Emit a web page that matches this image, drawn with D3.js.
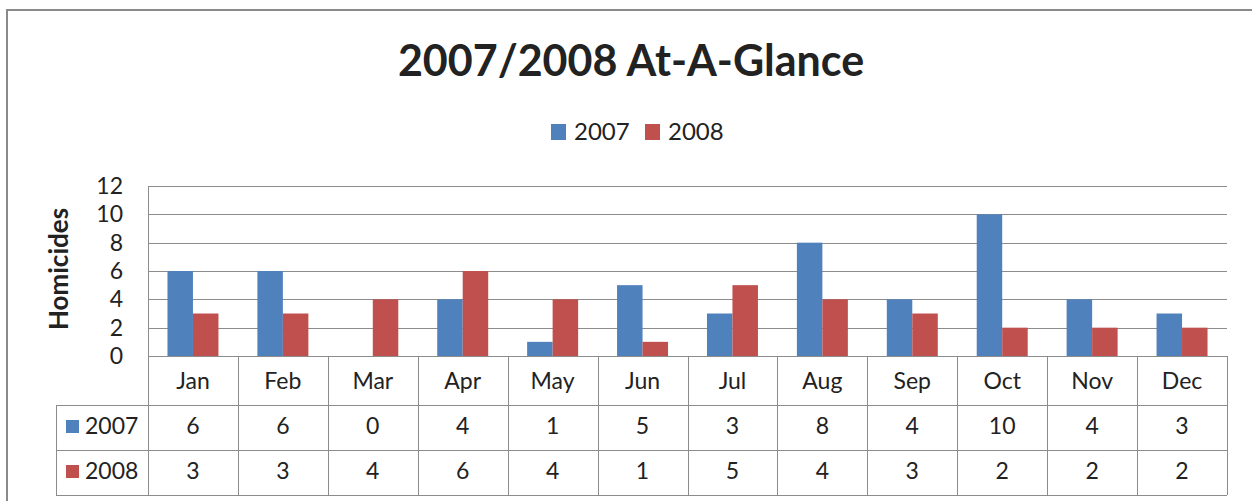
<!DOCTYPE html>
<html>
<head>
<meta charset="utf-8">
<script src="https://cdn.jsdelivr.net/npm/d3@7"></script>
<style>
  body { margin: 0; background: #fff; }
  svg text { font-family: Lato, "Open Sans", sans-serif; fill: #222; }
</style>
</head>
<body>
<svg id="chart" width="1252" height="501"></svg>
<script>
// DATA
const months = ["Jan", "Feb", "Mar", "Apr", "May", "Jun", "Jul", "Aug", "Sep", "Oct", "Nov", "Dec"];
const years = ["2007", "2008"];
const values2007 = [6, 6, 0, 4, 1, 5, 3, 8, 4, 10, 4, 3];
const values2008 = [3, 3, 4, 6, 4, 1, 5, 4, 3, 2, 2, 2];
const yTicks = [0, 2, 4, 6, 8, 10, 12];

const colors = { "2007": "#4F81BD", "2008": "#C0504D" };
const series = { "2007": values2007, "2008": values2008 };

const svg = d3.select("#chart");
const plot = { left: 148, right: 1227, top: 186, bottom: 356 };
const tableRows = [356, 405, 450, 495];
const tableLeft = 56;
const gridColor = "#8c8c8c";
const fontSize = 23;

// outer chart border
svg.append("rect")
    .attr("x", 7).attr("y", 10)
    .attr("width", 1300).attr("height", 600)
    .attr("fill", "none")
    .attr("stroke", "#8a8a8a")
    .attr("stroke-width", 2);

// SCALES
const x = d3.scaleBand()
    .domain(months)
    .range([plot.left, plot.right]);

const xInner = d3.scaleBand()
    .domain(years)
    .range([0, x.bandwidth() * 0.567])
    .padding(0);

const y = d3.scaleLinear()
    .domain([0, 12])
    .range([plot.bottom, plot.top]);

// GRIDLINES
svg.append("g")
    .selectAll("line")
    .data(yTicks)
    .join("line")
    .attr("x1", plot.left)
    .attr("x2", plot.right)
    .attr("y1", d => Math.round(y(d)) + 0.5)
    .attr("y2", d => Math.round(y(d)) + 0.5)
    .attr("stroke", gridColor)
    .attr("stroke-width", 1);

// Y AXIS
const yAxis = svg.append("g")
    .attr("transform", `translate(${plot.left},0)`)
    .call(d3.axisLeft(y).tickValues(yTicks).tickSize(0).tickPadding(25));
yAxis.select(".domain").attr("stroke", gridColor);
yAxis.selectAll("text")
    .attr("font-size", fontSize)
    .attr("font-family", "Lato, sans-serif")
    .attr("fill", "#222");

svg.append("text")
    .attr("transform", `translate(68, 269) rotate(-90)`)
    .attr("text-anchor", "middle")
    .attr("font-size", 26)
    .attr("font-weight", "bold")
    .text("Homicides");

// BARS
const groupOffset = (x.bandwidth() - xInner.range()[1]) / 2;
svg.append("g")
    .selectAll("g")
    .data(months)
    .join("g")
    .attr("transform", d => `translate(${x(d) + groupOffset},0)`)
    .selectAll("rect")
    .data((m, i) => years.map(yr => ({ yr, v: series[yr][i] })))
    .join("rect")
    .attr("x", d => xInner(d.yr))
    .attr("width", xInner.bandwidth())
    .attr("y", d => y(d.v))
    .attr("height", d => y(0) - y(d.v))
    .attr("fill", d => colors[d.yr]);

// DATA TABLE
const table = svg.append("g");
// horizontal lines
table.selectAll("line.h")
    .data(tableRows)
    .join("line")
    .attr("class", "h")
    .attr("x1", (d, i) => i === 0 ? plot.left : tableLeft)
    .attr("x2", plot.right)
    .attr("y1", d => d + 0.5)
    .attr("y2", d => d + 0.5)
    .attr("stroke", gridColor);
// vertical lines
const colEdges = months.map(m => x(m)).concat([plot.right]);
table.selectAll("line.v")
    .data(colEdges)
    .join("line")
    .attr("class", "v")
    .attr("x1", d => Math.round(d) + 0.5)
    .attr("x2", d => Math.round(d) + 0.5)
    .attr("y1", tableRows[0])
    .attr("y2", tableRows[3])
    .attr("stroke", gridColor);
table.append("line")
    .attr("x1", tableLeft + 0.5).attr("x2", tableLeft + 0.5)
    .attr("y1", tableRows[1]).attr("y2", tableRows[3])
    .attr("stroke", gridColor);

// month labels
table.selectAll("text.month")
    .data(months)
    .join("text")
    .attr("class", "month")
    .attr("x", d => x(d) + x.bandwidth() / 2)
    .attr("y", (tableRows[0] + tableRows[1]) / 2 + 8)
    .attr("text-anchor", "middle")
    .attr("font-size", fontSize)
    .text(d => d);

// value rows
years.forEach((yr, r) => {
    const cy = (tableRows[r + 1] + tableRows[r + 2]) / 2;
    table.selectAll(`text.val${yr}`)
        .data(series[yr])
        .join("text")
        .attr("class", `val${yr}`)
        .attr("x", (d, i) => x(months[i]) + x.bandwidth() / 2)
        .attr("y", cy + 6.5)
        .attr("text-anchor", "middle")
        .attr("font-size", fontSize)
        .text(d => d);
    table.append("rect")
        .attr("x", 66).attr("y", cy - 7.5)
        .attr("width", 13).attr("height", 13)
        .attr("fill", colors[yr]);
    table.append("text")
        .attr("x", 85)
        .attr("y", cy + 6.5)
        .attr("font-size", fontSize)
        .text(yr);
});

// TITLE
svg.append("text")
    .attr("x", 631)
    .attr("y", 76)
    .attr("text-anchor", "middle")
    .attr("font-size", 43)
    .attr("font-weight", "bold")
    .text("2007/2008 At-A-Glance");

// LEGEND
const legend = svg.append("g")
    .selectAll("g")
    .data(years)
    .join("g")
    .attr("transform", (d, i) => `translate(${551 + i * 94},124)`);
legend.append("rect")
    .attr("width", 15).attr("height", 16)
    .attr("fill", d => colors[d]);
legend.append("text")
    .attr("x", 23).attr("y", 16)
    .attr("font-size", 24)
    .text(d => d);
</script>
</body>
</html>
